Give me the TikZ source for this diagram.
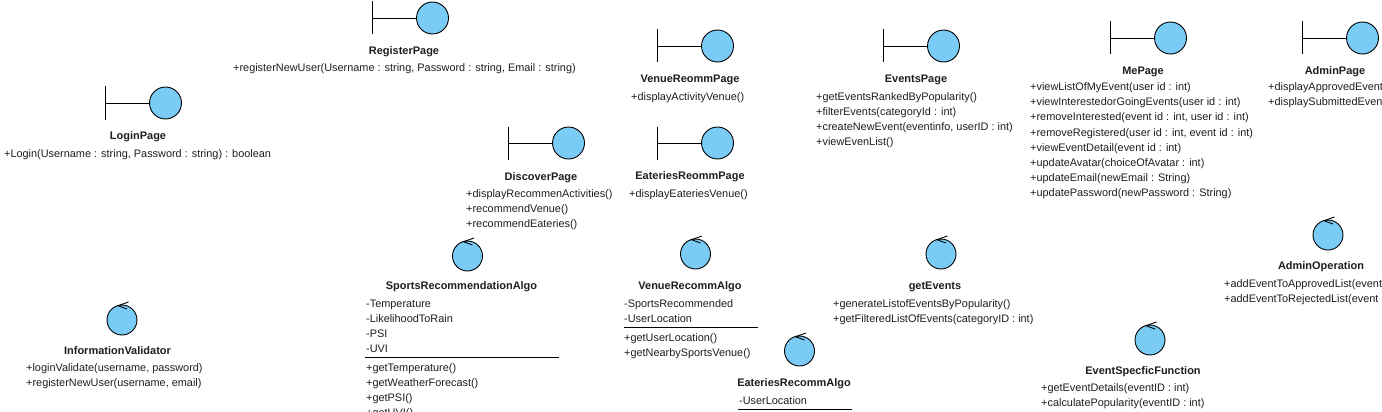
\documentclass[tikz,border=0pt]{standalone}
\usepackage{fontspec}
\setmainfont{Liberation Sans}
\definecolor{iconfill}{HTML}{7ACBF5}
\definecolor{txt}{HTML}{1E1E1E}
\tikzset{
  icon/.style={circle,draw=black,fill=iconfill,line width=0.9pt,minimum size=#1,inner sep=0pt},
  iconline/.style={draw=black,line width=0.9pt},
  title/.style={font=\fontsize{10.98}{12}\selectfont\bfseries,text=txt,inner sep=0pt,anchor=base},
  member/.style={font=\fontsize{10.9}{12}\selectfont,text=txt,inner sep=0pt,anchor=base west},
}
% boundary icon: id, bar x, centre y
\newcommand{\boundaryicon}[3]{%
  \node[icon=32pt] (#1) at (#2+60.5,#3) {};
  \coordinate (#1bar) at (#2,#3);
  \draw[iconline] (#2,#3-16.5) -- (#2,#3+16.5);
  \draw[iconline] (#1bar) -- (#1.west);
}
% control icon: id, centre x, centre y
\newcommand{\controlicon}[3]{%
  \node[icon=30pt] (#1) at (#2,#3) {};
  \draw[iconline] (#2+6.5,#3-18) -- (#2-4,#3-14.3) -- (#2+5,#3-11);
}
% members: id, x, first base y, list
\newcommand{\members}[4]{%
  \foreach \t [count=\i from 0] in {#4} {
    \node[member] (#1m\i) at (#2,#3+15*\i) {\t};
  }
}
\begin{document}
\begin{tikzpicture}[x=1pt,y=-1pt]
\useasboundingbox (0,0) rectangle (1382,412);
\clip (0,0) rectangle (1382,412);
\boundaryicon{reg}{372}{18}
\node[title] (regt) at (404,54.5) {RegisterPage};
\members{reg}{233}{71}{{+registerNewUser(Username : string, Password : string, Email : string)}}

\boundaryicon{log}{105}{103}
\node[title] (logt) at (138,139.5) {LoginPage};
\members{log}{4}{157}{{+Login(Username : string, Password : string) : boolean}}

\boundaryicon{dis}{508}{143}
\node[title] (dist) at (541,180.5) {DiscoverPage};
\members{dis}{466}{197}{{+displayRecommenActivities()},{+recommendVenue()},{+recommendEateries()}}

\boundaryicon{ven}{657}{46}
\node[title] (vent) at (690,82.5) {VenueReommPage};
\members{ven}{631}{100}{{+displayActivityVenue()}}

\boundaryicon{eat}{657}{143}
\node[title] (eatt) at (690,179.5) {EateriesReommPage};
\members{eat}{629}{197}{{+displayEateriesVenue()}}

\boundaryicon{evp}{883}{46}
\node[title] (evpt) at (916,82.5) {EventsPage};
\members{evp}{816}{100}{{+getEventsRankedByPopularity()},{+filterEvents(categoryId : int)},{+createNewEvent(eventinfo, userID : int)},{+viewEvenList()}}

\boundaryicon{me}{1110}{38}
\node[title] (met) at (1143,74.5) {MePage};
\members{me}{1030}{91}{{+viewListOfMyEvent(user id : int)},{+viewInterestedorGoingEvents(user id : int)},{+removeInterested(event id : int, user id : int)},{+removeRegistered(user id : int, event id : int)},{+viewEventDetail(event id : int)},{+updateAvatar(choiceOfAvatar : int)},{+updateEmail(newEmail : String)},{+updatePassword(newPassword : String)}}

\boundaryicon{adm}{1302}{38}
\node[title] (admt) at (1335,74.5) {AdminPage};
\members{adm}{1268}{91}{{+displayApprovedEvent},{+displaySubmittedEven}}

\controlicon{spo}{467.5}{256}
\node[title] (spot) at (461.5,289.5) {SportsRecommendationAlgo};
\members{spoa}{366}{307}{{-Temperature},{-LikelihoodToRain},{-PSI},{-UVI}}
\coordinate (spol) at (365,357.5); \coordinate (spor) at (559,357.5);
\draw[iconline] (spol) -- (spor);
\members{spob}{366}{371}{{+getTemperature()},{+getWeatherForecast()},{+getPSI()},{+getUVI()}}

\controlicon{vea}{695.5}{254}
\node[title] (veat) at (690,289.5) {VenueRecommAlgo};
\members{veaa}{624}{307}{{-SportsRecommended},{-UserLocation}}
\coordinate (veal) at (624,327.5); \coordinate (vear) at (758,327.5);
\draw[iconline] (veal) -- (vear);
\members{veab}{624}{341}{{+getUserLocation()},{+getNearbySportsVenue()}}

\controlicon{eaa}{799.5}{351}
\node[title] (eaat) at (794,386.5) {EateriesRecommAlgo};
\members{eaaa}{739}{404}{{-UserLocation}}
\coordinate (eaal) at (738,409.5); \coordinate (eaar) at (852,409.5);
\draw[iconline] (eaal) -- (eaar);

\controlicon{gev}{941}{254}
\node[title] (gevt) at (935,289.5) {getEvents};
\members{gev}{833}{307}{{+generateListofEventsByPopularity()},{+getFilteredListOfEvents(categoryID : int)}}

\controlicon{inf}{122}{320}
\node[title] (inft) at (117.5,354.5) {InformationValidator};
\members{inf}{26}{371}{{+loginValidate(username, password)},{+registerNewUser(username, email)}}

\controlicon{ado}{1328}{235}
\node[title] (adot) at (1321,269.5) {AdminOperation};
\members{ado}{1224}{287}{{+addEventToApprovedList(event},{+addEventToRejectedList(event}}

\controlicon{esf}{1150}{340}
\node[title] (esft) at (1143,374.5) {EventSpecficFunction};
\members{esf}{1041}{391}{{+getEventDetails(eventID : int)},{+calculatePopularity(eventID : int)}}
\end{tikzpicture}
\end{document}
